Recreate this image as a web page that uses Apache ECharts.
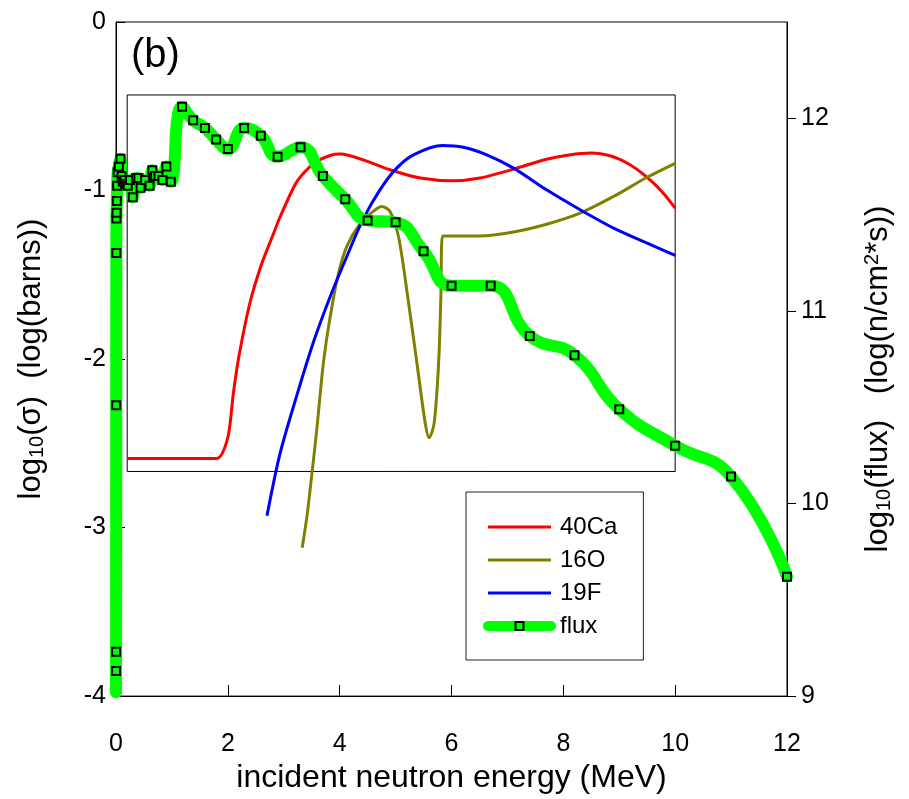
<!DOCTYPE html>
<html><head><meta charset="utf-8">
<script src="https://cdn.jsdelivr.net/npm/echarts@6/dist/echarts.min.js"></script>
<style>html,body{margin:0;padding:0;background:#fff}#c{width:909px;height:799px}</style>
</head><body><div id="c"></div>
<script>
// ---- data ----
const xTicks = [0, 2, 4, 6, 8, 10, 12];
const leftTicks = [-4, -3, -2, -1, 0];
const rightTicks = [9, 10, 11, 12];

const energyCa = [0.2, 1.8, 2.0, 2.1, 2.2, 2.4, 2.6, 2.8, 2.93, 3.23, 3.53, 3.83, 4.02, 4.42, 4.90, 5.44, 6.03, 6.51, 7.11, 7.70, 8.1, 8.5, 8.8, 9.0, 9.2, 9.4, 9.6, 9.8, 10.0];
const sigmaCa  = [-2.59, -2.59, -2.465, -2.2, -1.98, -1.66, -1.44, -1.27, -1.16, -0.95, -0.84, -0.792, -0.784, -0.818, -0.877, -0.926, -0.942, -0.926, -0.873, -0.814, -0.789, -0.778, -0.791, -0.814, -0.849, -0.895, -0.952, -1.02, -1.104];

const energyO = [3.33, 3.42, 3.50, 3.59, 3.71, 3.83, 3.98, 4.13, 4.36, 4.60, 4.75, 4.90, 5.05, 5.20, 5.38, 5.53, 5.60, 5.69, 5.77, 5.81, 5.84, 6.03, 6.51, 7.11, 7.70, 8.30, 8.90, 9.49, 10.01];
const sigmaO  = [-3.12, -2.92, -2.69, -2.42, -2.02, -1.75, -1.49, -1.33, -1.20, -1.124, -1.095, -1.124, -1.27, -1.59, -2.02, -2.38, -2.467, -2.38, -2.02, -1.63, -1.27, -1.27, -1.27, -1.246, -1.20, -1.134, -1.035, -0.923, -0.837];

const energyF = [2.70, 2.93, 3.23, 3.53, 3.83, 4.13, 4.42, 4.72, 5.02, 5.32, 5.84, 6.21, 6.63, 7.11, 7.70, 8.30, 8.90, 9.49, 10.0];
const sigmaF  = [-2.93, -2.566, -2.22, -1.90, -1.63, -1.39, -1.17, -0.996, -0.867, -0.788, -0.733, -0.743, -0.788, -0.867, -0.996, -1.114, -1.223, -1.311, -1.385];

const energyFlux = [0, 0.001, 0.002, 0.004, 0.006, 0.008, 0.010, 0.015, 0.02, 0.03, 0.05, 0.08, 0.10, 0.12, 0.15, 0.18, 0.21, 0.25, 0.30, 0.36, 0.40, 0.44, 0.52, 0.60, 0.65, 0.70, 0.76, 0.83, 0.90, 0.98, 1.18, 1.38, 1.59, 1.79, 2.00, 2.29, 2.59, 2.89, 3.30, 3.70, 4.10, 4.50, 5.00, 5.50, 6.00, 6.70, 7.40, 8.20, 9.00, 10.00, 11.00, 12.00];
const fluxVal    = [9.02, 9.13, 9.23, 10.51, 11.30, 11.48, 11.51, 11.57, 11.65, 11.72, 11.75, 11.79, 11.70, 11.67, 11.68, 11.66, 11.65, 11.68, 11.59, 11.69, 11.69, 11.64, 11.68, 11.65, 11.73, 11.70, 11.70, 11.68, 11.75, 11.67, 12.06, 11.99, 11.95, 11.89, 11.84, 11.95, 11.91, 11.80, 11.85, 11.70, 11.58, 11.47, 11.46, 11.31, 11.13, 11.13, 10.87, 10.77, 10.49, 10.30, 10.14, 9.62];

const insetBox = { e0: 0.2, e1: 10.0, s0: -2.667, s1: -0.433 };

// ---- build ----
const zip = (xs, ys) => xs.map((x, i) => [x, ys[i]]);
const FONT = 'Liberation Sans, Arial, sans-serif';
const fluxData = zip(energyFlux, fluxVal).map((p, i) => i === 0 ? { value: p, symbol: 'none' } : p);

const chart = echarts.init(document.getElementById('c'), null, { renderer: 'canvas' });
chart.setOption({
  animation: false,
  backgroundColor: '#fff',
  textStyle: { fontFamily: FONT, color: '#000' },
  title: { text: '(b)', left: 131, top: 36, padding: 0,
    textStyle: { fontFamily: FONT, fontSize: 40, fontWeight: 'normal', color: '#000' } },
  grid: { left: 116, right: 122, top: 22, bottom: 102, show: true, borderColor: '#000', borderWidth: 1, containLabel: false },
  legend: {
    orient: 'vertical', left: 466, top: 492,
    padding: [23, 26, 22, 17], itemGap: 9,
    itemWidth: 63, itemHeight: 10,
    borderColor: '#222', borderWidth: 1,
    lineStyle: { width: 'inherit' },
    textStyle: { fontFamily: FONT, fontSize: 24, color: '#000', padding: [0, 0, 0, 4] },
    data: [
      { name: '40Ca', itemStyle: { opacity: 0 } },
      { name: '16O', itemStyle: { opacity: 0 } },
      { name: '19F', itemStyle: { opacity: 0 } },
      { name: 'flux', lineStyle: { width: 10 } }
    ]
  },
  xAxis: {
    type: 'value', min: 0, max: 12, interval: 2, position: 'bottom',
    name: 'incident neutron energy (MeV)', nameLocation: 'middle', nameGap: 62,
    nameTextStyle: { fontFamily: FONT, fontSize: 32, color: '#000' },
    axisLine: { onZero: false, lineStyle: { color: '#000', width: 1 } },
    axisTick: { inside: true, length: 11, lineStyle: { color: '#000' }, customValues: xTicks },
    axisLabel: { fontFamily: FONT, fontSize: 25, color: '#000', margin: 36, customValues: xTicks },
    splitLine: { show: false }
  },
  yAxis: [
    {
      type: 'value', min: -4, max: 0, interval: 1, position: 'left',
      name: 'log{sub|10}(σ)  (log(barns))', nameLocation: 'middle', nameRotate: 90, nameGap: 69,
      nameTextStyle: { fontFamily: FONT, fontSize: 31, color: '#000',
        rich: { sub: { fontFamily: FONT, fontSize: 20, color: '#000', verticalAlign: 'bottom', padding: [12, 0, 0, 0] } } },
      axisLine: { onZero: false, lineStyle: { color: '#000', width: 1 } },
      axisTick: { inside: true, length: 9, lineStyle: { color: '#000' }, customValues: leftTicks },
      axisLabel: { fontFamily: FONT, fontSize: 25, color: '#000', margin: 10, customValues: leftTicks },
      splitLine: { show: false }
    },
    {
      type: 'value', min: 9, max: 12.5, interval: 1, position: 'right',
      name: 'log{sub|10}(flux)   (log(n/cm{sup|2}*s))', nameLocation: 'middle', nameRotate: 90, nameGap: 75,
      nameTextStyle: { fontFamily: FONT, fontSize: 31, color: '#000', padding: [0, 40, 0, 0],
        rich: {
          sub: { fontFamily: FONT, fontSize: 20, color: '#000', verticalAlign: 'bottom', padding: [12, 0, 0, 0] },
          sup: { fontFamily: FONT, fontSize: 20, color: '#000', verticalAlign: 'top', padding: [0, 0, 12, 0] }
        } },
      axisLine: { onZero: false, lineStyle: { color: '#000', width: 1 } },
      axisTick: { inside: false, length: 9, lineStyle: { color: '#000' }, customValues: rightTicks },
      axisLabel: { fontFamily: FONT, fontSize: 25, color: '#000', margin: 14, customValues: rightTicks },
      splitLine: { show: false }
    }
  ],
  series: [
    {
      name: '40Ca', type: 'line', yAxisIndex: 0, data: zip(energyCa, sigmaCa),
      smooth: 0.25, symbol: 'none', lineStyle: { color: '#ff0000', width: 3 }, itemStyle: { color: '#ff0000' }, z: 3,
      markArea: { silent: true, itemStyle: { color: 'rgba(0,0,0,0)', borderColor: '#000', borderWidth: 1 },
        data: [[ { coord: [insetBox.e0, insetBox.s1] }, { coord: [insetBox.e1, insetBox.s0] } ]] }
    },
    {
      name: '16O', type: 'line', yAxisIndex: 0, data: zip(energyO, sigmaO),
      smooth: 0.3, symbol: 'none', lineStyle: { color: '#808000', width: 3 }, itemStyle: { color: '#808000' }, z: 3
    },
    {
      name: '19F', type: 'line', yAxisIndex: 0, data: zip(energyF, sigmaF),
      smooth: 0.3, symbol: 'none', lineStyle: { color: '#0000ff', width: 3 }, itemStyle: { color: '#0000ff' }, z: 3
    },
    {
      name: 'flux', type: 'line', yAxisIndex: 1, data: fluxData,
      smooth: 0.5, symbol: 'rect', symbolSize: 8, showAllSymbol: true,
      lineStyle: { color: '#00ff00', width: 12, cap: 'round', join: 'round' },
      itemStyle: { color: '#00ff00', borderColor: '#000', borderWidth: 2 }, z: 4
    }
  ]
});
</script></body></html>
